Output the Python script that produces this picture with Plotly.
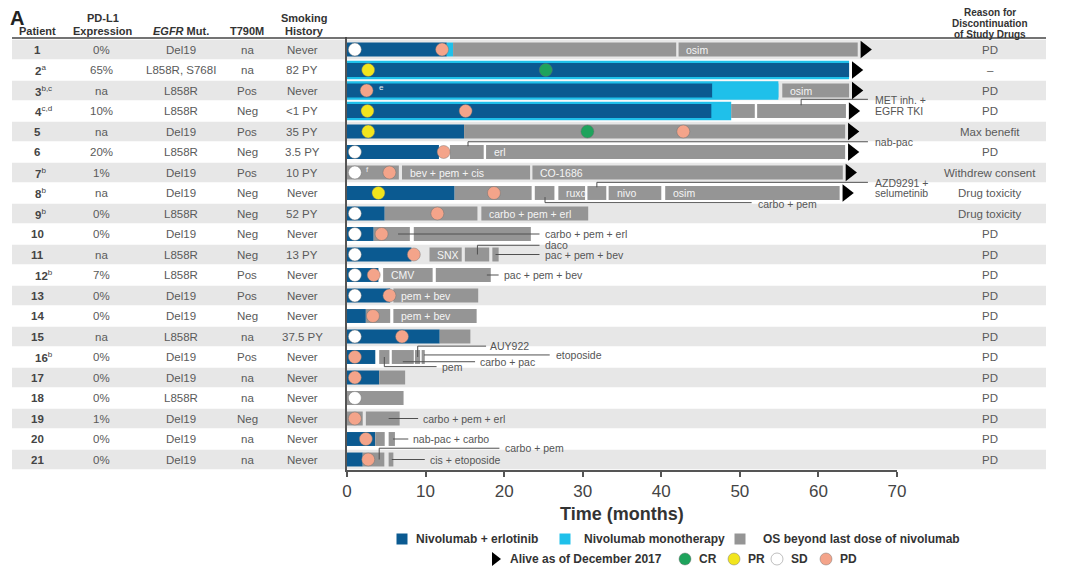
import plotly.graph_objects as go

# ---------------- data ----------------
patient_no = ["1", "2", "3", "4", "5", "6", "7", "8", "9", "10", "11",
              "12", "13", "14", "15", "16", "17", "18", "19", "20", "21"]
patient_sup = ["", "a", "b,c", "c,d", "", "", "b", "b", "b", "", "",
               "b", "", "", "", "b", "", "", "", "", ""]
pdl1 = ["0%", "65%", "na", "10%", "na", "20%", "1%", "na", "0%", "0%", "na",
        "7%", "0%", "0%", "na", "0%", "0%", "0%", "1%", "0%", "0%"]
egfr = ["Del19", "L858R, S768I", "L858R", "L858R", "Del19", "L858R", "Del19",
        "Del19", "L858R", "Del19", "L858R", "L858R", "Del19", "Del19", "L858R",
        "Del19", "Del19", "L858R", "Del19", "Del19", "Del19"]
t790m = ["na", "na", "Pos", "Neg", "Pos", "Neg", "Pos", "Neg", "Neg", "Neg", "Neg",
         "Pos", "Pos", "Neg", "na", "Pos", "na", "na", "Neg", "na", "na"]
smoking = ["Never", "82 PY", "Never", "<1 PY", "35 PY", "3.5 PY", "10 PY", "Never",
           "52 PY", "Never", "13 PY", "Never", "Never", "Never", "37.5 PY", "Never",
           "Never", "Never", "Never", "Never", "Never"]
reason = ["PD", "–", "PD", "PD", "Max benefit", "PD", "Withdrew consent",
          "Drug toxicity", "Drug toxicity", "PD", "PD", "PD", "PD", "PD", "PD",
          "PD", "PD", "PD", "PD", "PD", "PD"]

# nivolumab + erlotinib duration (months, from 0)
combo_end = [12.7, 63.9, 46.5, 46.4, 14.9, 11.7, 0, 13.7, 4.8, 3.4, 8.2,
             4.0, 5.5, 2.4, 11.8, 3.6, 4.1, 0, 0, 3.6, 2.0]

# nivolumab monotherapy segments
mono_row = [1, 3, 4]
mono_start = [12.7, 46.5, 46.4]
mono_end = [13.5, 54.9, 48.9]
mono_band_row = [2, 3, 4]
mono_band_end = [63.9, 54.9, 48.9]

# OS beyond last dose of nivolumab (gray segments)
os_row = [1, 1, 3, 4, 4, 5, 6, 6, 7, 7, 7, 8, 8, 8, 8, 8, 8, 9, 9, 10, 10,
          11, 11, 11, 12, 12, 13, 14, 14, 15, 16, 16, 16, 16, 17, 18, 19, 19,
          20, 20, 21, 21]
os_start = [13.5, 42.2, 55.4, 48.9, 52.2, 14.9, 13.1, 17.7, 0.0, 7.0, 23.6,
            13.7, 23.9, 26.9, 30.6, 33.3, 40.5, 4.8, 17.1, 3.4, 8.5,
            10.5, 15.0, 18.5, 4.6, 11.3, 5.9, 2.4, 5.9, 11.8, 4.1, 5.7, 8.65, 9.5,
            4.1, 0.0, 0.0, 2.4, 3.6, 5.3, 2.0, 5.3]
os_end = [41.9, 65.0, 63.9, 51.9, 63.5, 63.4, 17.4, 63.4, 6.6, 23.3, 63.1,
          23.5, 26.4, 30.3, 33.0, 40.0, 62.7, 16.6, 30.7, 8.0, 23.4,
          14.6, 18.1, 19.3, 10.9, 18.3, 16.7, 5.5, 16.5, 15.7, 5.4, 8.5, 9.3, 9.9,
          7.4, 7.2, 2.0, 6.7, 4.8, 6.1, 4.75, 5.9]
os_label = ["", "osim", "osim", "", "", "", "", "erl", "", "bev + pem + cis", "CO-1686",
            "", "", "ruxo", "", "nivo", "osim", "", "carbo + pem + erl", "", "",
            "SNX", "", "", "CMV", "", "pem + bev", "", "pem + bev", "", "", "", "", "",
            "", "", "", "", "", "", "", ""]

# responses
resp_row = [1, 1, 2, 2, 3, 4, 4, 5, 5, 5, 6, 6, 7, 7, 8, 8, 9, 9, 10, 10, 11, 11,
            12, 12, 13, 13, 14, 15, 15, 16, 17, 18, 19, 20, 21]
resp_time = [1.0, 12.1, 2.7, 25.3, 2.5, 2.6, 15.1, 2.7, 30.6, 42.8, 1.0, 12.3,
             1.0, 5.4, 4.0, 18.7, 1.0, 11.5, 1.0, 4.4, 1.0, 8.5, 1.0, 3.4, 1.0, 5.4,
             3.3, 1.0, 7.0, 1.0, 1.0, 1.0, 1.0, 2.4, 2.7]
resp_type = ["SD", "PD", "PR", "CR", "PD", "PR", "PD", "PR", "CR", "PD", "SD", "PD",
             "SD", "PD", "PR", "PD", "SD", "PD", "SD", "PD", "SD", "PD", "SD", "PD",
             "SD", "PD", "PD", "SD", "PD", "PD", "PD", "SD", "PD", "PD", "PD"]
alive_row = [1, 2, 3, 4, 5, 6, 7, 8]

# subsequent-therapy callouts (leader lines and labels)
callout_paths = [
    [(57.8, 3.72), (57.8, 3.43), (66.3, 3.43)],
    [(15.4, 5.72), (15.4, 5.5), (66.3, 5.5)],
    [(31.8, 7.72), (31.8, 7.48), (66.3, 7.48)],
    [(25.2, 8.2), (25.2, 8.47), (51.5, 8.47)],
    [(6.5, 10.0), (24.5, 10.0)],
    [(16.6, 11.0), (16.6, 10.55), (24.5, 10.55)],
    [(18.9, 11.0), (24.5, 11.0)],
    [(17.8, 12.0), (19.3, 12.0)],
    [(9.0, 16.0), (9.0, 15.47), (17.7, 15.47)],
    [(9.8, 15.9), (25.8, 15.9)],
    [(7.1, 16.23), (16.3, 16.23)],
    [(4.75, 16.0), (4.75, 16.47), (11.4, 16.47)],
    [(5.3, 19.0), (9.05, 19.0)],
    [(5.85, 20.0), (7.8, 20.0)],
    [(4.1, 21.0), (4.1, 20.45), (19.4, 20.45)],
    [(5.7, 21.0), (9.9, 21.0)],
]
callout_text = ["MET inh. +", "EGFR TKI", "nab-pac", "AZD9291 +", "selumetinib",
                "carbo + pem", "carbo + pem + erl", "daco", "pac + pem + bev",
                "pac + pem + bev", "AUY922", "etoposide", "carbo + pac", "pem",
                "carbo + pem + erl", "nab-pac + carbo", "carbo + pem", "cis + etoposide"]
callout_x = [67.0, 67.0, 67.0, 67.0, 67.0, 52.0, 25.0, 25.0, 25.0, 19.7, 18.0,
             26.3, 16.7, 11.8, 9.4, 8.1, 19.8, 10.3]
callout_y = [3.46, 4.0, 5.5, 7.5, 8.02, 8.55, 10.0, 10.55, 11.0, 12.0, 15.47,
             15.9, 16.23, 16.5, 19.0, 20.0, 20.45, 21.0]
marker_note_text = ["e", "f"]
marker_note_x = [3.8, 2.2]
marker_note_y = [2.83, 6.83]

# ---------------- style / geometry ----------------
W, H = 1080, 581
OFF = 8  # page offset of the plot div
X0_PX, X70_PX = 347, 897          # reference pixel positions of t=0 and t=70
TOP_PX, AXIS_PX = 37, 470
ROW1_PX, ROW_STEP = 49.5, 20.5
y_top = 1 - (ROW1_PX - TOP_PX) / ROW_STEP
y_bot = y_top + (AXIS_PX - TOP_PX) / ROW_STEP


def fx(px):
    return (px - OFF) / W


def fy(px):
    return 1 - (px - OFF) / H


FONT = "Arial, Liberation Sans, sans-serif"
DARK = "#0b5a91"
LIGHT = "#1fc0ea"
GRAY = "#959595"
STRIPE = "#e7e7e7"
AX = "#555555"
RESP_COL = {"CR": "#1ea35c", "PR": "#f2e51d", "SD": "#ffffff", "PD": "#f4a48a"}

rows = list(range(1, len(patient_no) + 1))

fig = go.Figure()

# light-blue band (monotherapy) behind the combination bars
fig.add_trace(go.Bar(orientation="h", y=mono_band_row, x=mono_band_end,
                     base=[0] * len(mono_band_row), width=0.9,
                     marker=dict(color=LIGHT, line_width=0), hoverinfo="skip"))
# nivolumab + erlotinib
c_rows = [r for r, e in zip(rows, combo_end) if e > 0]
c_ends = [e for e in combo_end if e > 0]
fig.add_trace(go.Bar(orientation="h", y=c_rows, x=c_ends, base=[0] * len(c_rows),
                     width=0.68, marker=dict(color=DARK, line_width=0), hoverinfo="skip"))
# monotherapy
fig.add_trace(go.Bar(orientation="h", y=mono_row,
                     x=[e - s for s, e in zip(mono_start, mono_end)], base=mono_start,
                     width=0.68, marker=dict(color=LIGHT, line_width=0), hoverinfo="skip"))
# OS beyond nivolumab
fig.add_trace(go.Bar(orientation="h", y=os_row,
                     x=[e - s for s, e in zip(os_start, os_end)], base=os_start,
                     width=0.68, marker=dict(color=GRAY, line_width=0), hoverinfo="skip"))

# callout leader lines
lx, ly = [], []
for path in callout_paths:
    for (px_, py_) in path:
        lx.append(px_)
        ly.append(py_)
    lx.append(None)
    ly.append(None)
fig.add_trace(go.Scatter(x=lx, y=ly, mode="lines", line=dict(color="#505050", width=1),
                         hoverinfo="skip", cliponaxis=False))

# alive arrows
bar_end = {}
for r, e in zip(rows, combo_end):
    bar_end[r] = max(bar_end.get(r, 0), e)
for r, e in zip(mono_row, mono_end):
    bar_end[r] = max(bar_end[r], e)
for r, e in zip(os_row, os_end):
    bar_end[r] = max(bar_end[r], e)
fig.add_trace(go.Scatter(x=[bar_end[r] + 0.85 for r in alive_row], y=alive_row,
                         mode="markers", cliponaxis=False, hoverinfo="skip",
                         marker=dict(symbol="triangle-right", size=15, color="black")))

# response markers
for t in ["CR", "PR", "SD", "PD"]:
    xs = [x for x, k in zip(resp_time, resp_type) if k == t]
    ys = [y for y, k in zip(resp_row, resp_type) if k == t]
    fig.add_trace(go.Scatter(x=xs, y=ys, mode="markers", cliponaxis=False, hoverinfo="skip",
                             marker=dict(symbol="circle", size=13, color=RESP_COL[t], opacity=1,
                                         line=dict(color="rgba(110,110,110,0.55)", width=0.8))))

# legend glyphs on a pixel overlay axis (reference pixel coordinates)
leg_sym_x = [402, 565, 740, 495, 685, 734, 777, 826]
leg_sym_y = [539, 539, 539, 559, 559, 559, 559, 559]
leg_sym = ["square", "square", "square", "triangle-right", "circle", "circle", "circle", "circle"]
leg_col = [DARK, LIGHT, GRAY, "black", RESP_COL["CR"], RESP_COL["PR"], RESP_COL["SD"], RESP_COL["PD"]]
leg_size = [11, 11, 11, 12, 12, 12, 12, 12]
leg_text = ["Nivolumab + erlotinib", "Nivolumab monotherapy", "OS beyond last dose of nivolumab",
            "Alive as of December 2017", "CR", "PR", "SD", "PD"]
leg_text_x = [414, 582, 761, 508, 697, 746, 789, 838]
fig.add_trace(go.Scatter(x=leg_sym_x, y=leg_sym_y, xaxis="x2", yaxis="y2", mode="markers",
                         cliponaxis=False, hoverinfo="skip",
                         marker=dict(symbol=leg_sym, color=leg_col, size=leg_size, opacity=1,
                                     line=dict(color="rgba(110,110,110,0.55)",
                                               width=[0, 0, 0, 0, 0.8, 0.8, 0.8, 0.8]))))

# ---------------- shapes ----------------
shapes = []
for r in rows:
    if r % 2 == 1:
        shapes.append(dict(type="rect", xref="paper", yref="y", x0=fx(12), x1=fx(1046),
                           y0=r - 0.48, y1=r + 0.48, fillcolor=STRIPE, line_width=0,
                           layer="below"))
shapes.append(dict(type="line", xref="paper", yref="paper", x0=fx(12), x1=fx(1046),
                   y0=fy(38), y1=fy(38), line=dict(color="#444", width=1.5)))

# ---------------- annotations ----------------
ann = []


def ptxt(text, xpx, ypx, size=11, color="#333", xanchor="center", bold=True):
    ann.append(dict(text=("<b>%s</b>" % text) if bold else text, x=xpx, y=ypx,
                    xref="x2", yref="y2", showarrow=False, xanchor=xanchor,
                    yanchor="middle", font=dict(family=FONT, size=size, color=color)))


ptxt("A", 17, 18, size=20, color="#222")
ptxt("Patient", 37, 31)
ptxt("PD-L1", 103, 18)
ptxt("Expression", 103, 31)
ptxt("<i>EGFR</i> Mut.", 181, 31)
ptxt("T790M", 247, 31)
ptxt("Smoking", 304, 18)
ptxt("History", 304, 31)
ptxt("Reason for", 990, 12, size=10)
ptxt("Discontinuation", 990, 23, size=10)
ptxt("of Study Drugs", 990, 34, size=10)

col_x = [101, 181, 247, 302, 990]
for i, r in enumerate(rows):
    lab = "<b>%s</b>" % patient_no[i]
    if patient_sup[i]:
        lab += "<sup>%s</sup>" % patient_sup[i]
    ann.append(dict(text=lab, x=fx(37 if not patient_sup[i] else 33), y=r, xref="paper", yref="y",
                    showarrow=False, xanchor="center" if not patient_sup[i] else "left",
                    yanchor="middle", font=dict(family=FONT, size=11.5, color="#444")))
    for cx, val in zip(col_x, [pdl1[i], egfr[i], t790m[i], smoking[i], reason[i]]):
        ann.append(dict(text=val.replace("<", "&lt;"), x=fx(cx), y=r, xref="paper", yref="y",
                        showarrow=False, xanchor="center", yanchor="middle",
                        font=dict(family=FONT, size=11.5, color="#5a5a5a")))

for r, s, lab in zip(os_row, os_start, os_label):
    if lab:
        ann.append(dict(text=lab, x=s + 0.75, y=r, xref="x", yref="y", showarrow=False,
                        xanchor="left", yanchor="middle",
                        font=dict(family=FONT, size=10.5, color="#f4f4f4")))

for t, x, y in zip(callout_text, callout_x, callout_y):
    ann.append(dict(text=t, x=x, y=y, xref="x", yref="y", showarrow=False, xanchor="left",
                    yanchor="middle", font=dict(family=FONT, size=10.5, color="#555")))

for t, x, y in zip(marker_note_text, marker_note_x, marker_note_y):
    ann.append(dict(text=t, x=x, y=y, xref="x", yref="y", showarrow=False, xanchor="left",
                    yanchor="middle", font=dict(family=FONT, size=8, color="#f0f0f0")))

ann.append(dict(text="<b>Time (months)</b>", x=622, y=514, xref="x2", yref="y2",
                showarrow=False, xanchor="center", yanchor="middle",
                font=dict(family=FONT, size=18, color="#333")))
for t, x, y in zip(leg_text, leg_text_x, leg_sym_y):
    ann.append(dict(text="<b>%s</b>" % t, x=x, y=y, xref="x2", yref="y2", showarrow=False,
                    xanchor="left", yanchor="middle",
                    font=dict(family=FONT, size=12, color="#333")))

fig.update_layout(
    width=W, height=H, margin=dict(l=0, r=0, t=0, b=0),
    paper_bgcolor="white", plot_bgcolor="rgba(0,0,0,0)",
    barmode="overlay", showlegend=False, hovermode=False,
    font=dict(family=FONT),
    xaxis=dict(domain=[fx(X0_PX), fx(X70_PX)], range=[0, 70],
               tickvals=[0, 10, 20, 30, 40, 50, 60, 70],
               showline=True, linecolor=AX, linewidth=1.5, ticks="outside", ticklen=5,
               tickwidth=1.5, tickcolor=AX, tickfont=dict(family=FONT, size=17, color="#444"),
               showgrid=False, zeroline=False, anchor="y", automargin=False),
    yaxis=dict(domain=[fy(AXIS_PX), fy(TOP_PX)], range=[y_bot, y_top],
               showline=True, linecolor=AX, linewidth=1.5, showticklabels=False, ticks="",
               showgrid=False, zeroline=False, anchor="x", automargin=False),
    xaxis2=dict(domain=[0, 1], range=[OFF, W + OFF], visible=False, anchor="y2"),
    yaxis2=dict(domain=[0, 1], range=[H + OFF, OFF], visible=False, anchor="x2"),
    shapes=shapes, annotations=ann,
)

fig.write_html("out.html")
